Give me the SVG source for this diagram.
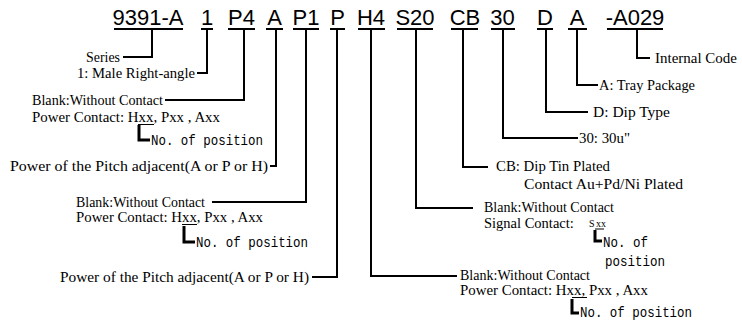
<svg xmlns="http://www.w3.org/2000/svg" width="742" height="327" viewBox="0 0 742 327">
<style>
.code{font-family:"Liberation Sans",Arial,sans-serif;font-size:22px;fill:#000;text-anchor:middle}
.lbl{font-family:"Liberation Serif","Times New Roman",serif;font-size:14.5px;fill:#000}
.sm{font-family:"Liberation Serif","Times New Roman",serif;font-size:10px;fill:#000}
.mono{font-family:"Liberation Mono","Courier New",monospace;font-size:15px;fill:#000}
.ln{fill:none;stroke:#000;stroke-width:2}
.ul{fill:none;stroke:#000;stroke-width:2}
.ul1{fill:none;stroke:#000;stroke-width:1}
.br{fill:none;stroke:#000;stroke-width:3}
</style>
<rect width="742" height="327" fill="#fff"/>
<g id="codes">
<g id="c-series"><text class="code" x="148" y="25">9391-A</text><line class="ul" x1="114" y1="29" x2="183" y2="29"/></g>
<g id="c-1"><text class="code" x="207" y="25">1</text><line class="ul" x1="201" y1="29" x2="213" y2="29"/></g>
<g id="c-p4"><text class="code" x="241.5" y="25">P4</text><line class="ul" x1="228" y1="29" x2="255" y2="29"/></g>
<g id="c-a1"><text class="code" x="274.5" y="25">A</text><line class="ul" x1="266" y1="29" x2="283" y2="29"/></g>
<g id="c-p1"><text class="code" x="306" y="25">P1</text><line class="ul" x1="293" y1="29" x2="319" y2="29"/></g>
<g id="c-p"><text class="code" x="337.5" y="25">P</text><line class="ul" x1="330" y1="29" x2="345" y2="29"/></g>
<g id="c-h4"><text class="code" x="371" y="25">H4</text><line class="ul" x1="358" y1="29" x2="385" y2="29"/></g>
<g id="c-s20"><text class="code" x="415" y="25">S20</text><line class="ul" x1="397" y1="29" x2="433" y2="29"/></g>
<g id="c-cb"><text class="code" x="465" y="25">CB</text><line class="ul" x1="451" y1="29" x2="478" y2="29"/></g>
<g id="c-30"><text class="code" x="502.5" y="25">30</text><line class="ul" x1="491" y1="29" x2="515" y2="29"/></g>
<g id="c-d"><text class="code" x="545" y="25">D</text><line class="ul" x1="537" y1="29" x2="553" y2="29"/></g>
<g id="c-a2"><text class="code" x="577" y="25">A</text><line class="ul" x1="568" y1="29" x2="587" y2="29"/></g>
<g id="c-a029"><text class="code" x="635" y="25">-A029</text><line class="ul" x1="607" y1="29" x2="663" y2="29"/></g>
</g>
<g id="connectors">
<path class="ln" d="M152 29V57H123"/>
<path class="ln" d="M207 29V73H197"/>
<path class="ln" d="M244 29V100H165"/>
<path class="ln" d="M276 29V166H270"/>
<path class="ln" d="M306 29V202H212"/>
<path class="ln" d="M337 29V277H312"/>
<path class="ln" d="M371 29V276H457"/>
<path class="ln" d="M416 29V208H473"/>
<path class="ln" d="M463 29V167H488"/>
<path class="ln" d="M503 29V138H578"/>
<path class="ln" d="M546 29V112H588"/>
<path class="ln" d="M577 29V85H598"/>
<path class="ln" d="M637 29V58H650"/>
</g>
<g id="n-series"><text class="lbl" x="86" y="62" textLength="34" lengthAdjust="spacingAndGlyphs">Series</text></g>
<g id="n-male"><text class="lbl" x="77" y="78" textLength="118" lengthAdjust="spacingAndGlyphs">1: Male Right-angle</text></g>
<g id="n-p4">
<text class="lbl" x="32" y="105" textLength="131" lengthAdjust="spacingAndGlyphs">Blank:Without Contact</text>
<text class="lbl" x="32" y="122" textLength="188" lengthAdjust="spacingAndGlyphs">Power Contact: Hxx, Pxx , Axx</text>
<line class="ul1" x1="138" y1="124.5" x2="154" y2="124.5"/>
<path class="br" d="M139 125V140H150"/>
<text class="mono" x="151" y="145" textLength="112" lengthAdjust="spacingAndGlyphs">No. of position</text>
</g>
<g id="n-a1"><text class="lbl" x="10" y="171" textLength="258" lengthAdjust="spacingAndGlyphs">Power of the Pitch adjacent(A or P or H)</text></g>
<g id="n-p1">
<text class="lbl" x="76" y="207" textLength="129" lengthAdjust="spacingAndGlyphs">Blank:Without Contact</text>
<text class="lbl" x="76" y="222" textLength="187" lengthAdjust="spacingAndGlyphs">Power Contact: Hxx, Pxx , Axx</text>
<line class="ul1" x1="182" y1="224.5" x2="197" y2="224.5"/>
<path class="br" d="M184 226V242H195"/>
<text class="mono" x="196" y="247" textLength="112" lengthAdjust="spacingAndGlyphs">No. of position</text>
</g>
<g id="n-p"><text class="lbl" x="60" y="282" textLength="249" lengthAdjust="spacingAndGlyphs">Power of the Pitch adjacent(A or P or H)</text></g>
<g id="n-h4">
<text class="lbl" x="460" y="280" textLength="130" lengthAdjust="spacingAndGlyphs">Blank:Without Contact</text>
<text class="lbl" x="460" y="295" textLength="188" lengthAdjust="spacingAndGlyphs">Power Contact: Hxx, Pxx , Axx</text>
<line class="ul1" x1="572" y1="297.5" x2="587" y2="297.5"/>
<path class="br" d="M572 299V313H579"/>
<text class="mono" x="580" y="317" textLength="112" lengthAdjust="spacingAndGlyphs">No. of position</text>
</g>
<g id="n-s20">
<text class="lbl" x="484" y="212" textLength="130" lengthAdjust="spacingAndGlyphs">Blank:Without Contact</text>
<text class="lbl" x="484" y="228">Signal Contact:</text>
<text class="sm" x="589" y="227">S</text>
<text class="sm" x="596" y="227">xx</text>
<line class="ul1" x1="595" y1="229" x2="604" y2="229"/>
<path class="br" d="M595 230V241H602"/>
<text class="mono" x="603" y="247" textLength="45" lengthAdjust="spacingAndGlyphs">No. of</text>
<text class="mono" x="605" y="266" textLength="60" lengthAdjust="spacingAndGlyphs">position</text>
</g>
<g id="n-cb">
<text class="lbl" x="496" y="171" textLength="114" lengthAdjust="spacingAndGlyphs">CB: Dip Tin Plated</text>
<text class="lbl" x="524" y="189" textLength="159" lengthAdjust="spacingAndGlyphs">Contact Au+Pd/Ni Plated</text>
</g>
<g id="n-30"><text class="lbl" x="579" y="143" textLength="51" lengthAdjust="spacingAndGlyphs">30: 30u"</text></g>
<g id="n-d"><text class="lbl" x="593" y="117" textLength="77" lengthAdjust="spacingAndGlyphs">D: Dip Type</text></g>
<g id="n-a2"><text class="lbl" x="599" y="90" textLength="96" lengthAdjust="spacingAndGlyphs">A: Tray Package</text></g>
<g id="n-a029"><text class="lbl" x="655" y="63" textLength="82" lengthAdjust="spacingAndGlyphs">Internal Code</text></g>
</svg>
